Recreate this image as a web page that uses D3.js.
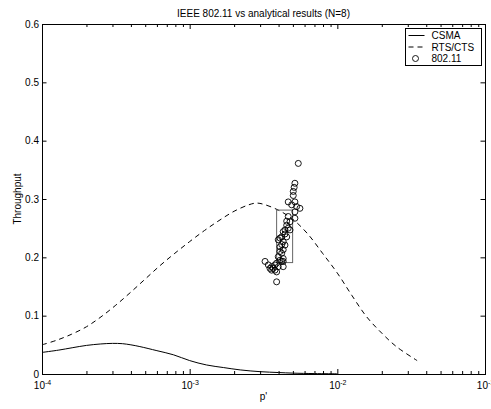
<!DOCTYPE html>
<html>
<head>
<meta charset="utf-8">
<script src="https://cdn.jsdelivr.net/npm/d3@7"></script>
<style>
  body { margin: 0; background: #fff; }
  svg { display: block; }
</style>
</head>
<body>
<div id="chart"></div>
<script>
var width = 491;
var height = 409;
var font = "'Liberation Sans', Arial, Helvetica, sans-serif";

// analytical CSMA curve (p' , throughput)
var csmaP = [1.0e-4, 1.3e-4, 1.6e-4, 2.0e-4, 2.5e-4, 3.0e-4, 3.5e-4, 4.0e-4, 4.6e-4, 6.0e-4,
  7.75e-4, 1.0e-3, 1.3e-3, 1.7e-3, 2.2e-3, 3.0e-3, 4.0e-3, 5.0e-3, 7.0e-3, 1.0e-2];
var csmaS = [0.037, 0.041, 0.045, 0.049, 0.0515, 0.0525, 0.052, 0.050, 0.047, 0.040,
  0.033, 0.023, 0.0155, 0.011, 0.007, 0.004, 0.0025, 0.0015, 0.0007, 0.0003];

// analytical RTS/CTS curve
var rtsP = [1.0e-4, 1.26e-4, 1.58e-4, 2.0e-4, 2.51e-4, 3.16e-4, 3.98e-4, 5.01e-4, 6.31e-4, 7.94e-4,
  1.0e-3, 1.26e-3, 1.58e-3, 2.0e-3, 2.51e-3, 2.82e-3, 3.16e-3, 3.98e-3, 5.01e-3, 6.31e-3, 7.94e-3,
  1.0e-2, 1.26e-2, 1.58e-2, 2.0e-2, 2.51e-2, 3.47e-2];
var rtsS = [0.050, 0.058, 0.068, 0.081, 0.098, 0.118, 0.140, 0.163, 0.186, 0.207,
  0.227, 0.246, 0.263, 0.279, 0.290, 0.293, 0.291, 0.281, 0.265, 0.240, 0.207,
  0.173, 0.134, 0.098, 0.070, 0.047, 0.023];

// 802.11 simulation points
var simP = [5.44e-3, 5.16e-3, 5.10e-3, 5.03e-3, 5.03e-3, 4.65e-3, 5.16e-3, 4.91e-3, 5.30e-3, 5.58e-3,
  5.16e-3, 5.16e-3, 4.78e-3, 4.54e-3, 4.65e-3, 4.42e-3, 4.78e-3, 4.30e-3, 4.20e-3, 4.54e-3,
  4.09e-3, 3.98e-3, 4.30e-3, 4.42e-3, 4.09e-3, 4.30e-3, 4.20e-3, 3.98e-3, 4.30e-3, 4.09e-3,
  4.30e-3, 4.20e-3, 3.88e-3, 3.24e-3, 3.41e-3, 3.78e-3, 3.98e-3, 3.59e-3, 4.30e-3, 3.68e-3,
  3.50e-3, 3.59e-3, 3.78e-3, 3.88e-3, 3.88e-3, 4.42e-3, 4.54e-3, 4.20e-3, 4.65e-3, 4.09e-3];
var simS = [0.361, 0.327, 0.320, 0.313, 0.306, 0.295, 0.295, 0.290, 0.287, 0.284,
  0.278, 0.267, 0.261, 0.255, 0.250, 0.247, 0.247, 0.244, 0.235, 0.235,
  0.233, 0.230, 0.227, 0.221, 0.218, 0.213, 0.207, 0.201, 0.198, 0.195,
  0.193, 0.193, 0.190, 0.193, 0.187, 0.187, 0.184, 0.184, 0.184, 0.181,
  0.181, 0.178, 0.178, 0.175, 0.158, 0.240, 0.262, 0.222, 0.270, 0.210];

// box drawn around the bulk of the simulation points
var boxP = [3.88e-3, 4.98e-3];
var boxS = [0.191, 0.281];

var xMajor = [1e-4, 1e-3, 1e-2, 1e-1];
var xExp = ["-4", "-3", "-2", "-1"];
var yTicks = [0, 0.1, 0.2, 0.3, 0.4, 0.5, 0.6];
var yLabels = ["0", "0.1", "0.2", "0.3", "0.4", "0.5", "0.6"];
var legendNames = ["CSMA", "RTS/CTS", "802.11"];

var x = d3.scaleLog()
  .domain([1e-4, 1e-1])
  .range([42, 485]);

var y = d3.scaleLinear()
  .domain([0, 0.6])
  .range([374, 24]);

// minor ticks 2..9 in every decade
var xMinor = [];
xMajor.slice(0, -1).forEach(function (d) {
  for (var k = 2; k < 10; k++) xMinor.push(k * d);
});

var svg = d3.select("#chart")
  .append("svg")
  .attr("width", width)
  .attr("height", height)
  .attr("font-family", font);

var line = d3.line()
  .x(function (d) { return x(d[0]); })
  .y(function (d) { return y(d[1]); })
  .curve(d3.curveCatmullRom.alpha(0.5));

function tidy(g) {
  g.attr("font-family", font).attr("font-size", 10);
  g.select(".domain").remove();
}

// ticks on all four sides, pointing inwards
svg.append("g")
  .attr("transform", "translate(0," + y(0) + ")")
  .call(d3.axisBottom(x).tickValues(xMajor).tickSizeInner(-5).tickSizeOuter(0).tickPadding(8)
    .tickFormat(function () { return ""; }))
  .call(tidy)
  .selectAll(".tick text")
  .each(function (d, i) {
    var t = d3.select(this);
    t.append("tspan").text("10");
    t.append("tspan").attr("font-size", 7).attr("dy", "-0.55em").text(xExp[i]);
  });

svg.append("g")
  .attr("transform", "translate(0," + y(0) + ")")
  .call(d3.axisBottom(x).tickValues(xMinor).tickSizeInner(-3).tickSizeOuter(0).tickFormat(""))
  .call(tidy);

svg.append("g")
  .attr("transform", "translate(0," + y(0.6) + ")")
  .call(d3.axisTop(x).tickValues(xMajor).tickSizeInner(-5).tickSizeOuter(0).tickFormat(""))
  .call(tidy);

svg.append("g")
  .attr("transform", "translate(0," + y(0.6) + ")")
  .call(d3.axisTop(x).tickValues(xMinor).tickSizeInner(-3).tickSizeOuter(0).tickFormat(""))
  .call(tidy);

svg.append("g")
  .attr("transform", "translate(" + x(1e-4) + ",0)")
  .call(d3.axisLeft(y).tickValues(yTicks).tickSizeInner(-4.5).tickSizeOuter(0).tickPadding(3)
    .tickFormat(function (d, i) { return yLabels[i]; }))
  .call(tidy);

svg.append("g")
  .attr("transform", "translate(" + x(1e-1) + ",0)")
  .call(d3.axisRight(y).tickValues(yTicks).tickSizeInner(-4.5).tickSizeOuter(0).tickFormat(""))
  .call(tidy);

// axes box
svg.append("rect")
  .attr("x", x(1e-4) + 0.5)
  .attr("y", y(0.6) + 0.5)
  .attr("width", x(1e-1) - x(1e-4))
  .attr("height", y(0) - y(0.6))
  .attr("fill", "none")
  .attr("stroke", "#000")
  .attr("stroke-width", 1);

// curves
svg.append("path")
  .datum(d3.zip(csmaP, csmaS))
  .attr("d", line)
  .attr("fill", "none")
  .attr("stroke", "#000")
  .attr("stroke-width", 1);

svg.append("path")
  .datum(d3.zip(rtsP, rtsS))
  .attr("d", line)
  .attr("fill", "none")
  .attr("stroke", "#000")
  .attr("stroke-width", 1)
  .attr("stroke-dasharray", "5,4");

svg.append("rect")
  .attr("x", x(boxP[0]))
  .attr("y", y(boxS[1]))
  .attr("width", x(boxP[1]) - x(boxP[0]))
  .attr("height", y(boxS[0]) - y(boxS[1]))
  .attr("fill", "none")
  .attr("stroke", "#666")
  .attr("stroke-width", 1);

svg.append("g")
  .selectAll("circle")
  .data(d3.zip(simP, simS))
  .enter()
  .append("circle")
  .attr("cx", function (d) { return x(d[0]); })
  .attr("cy", function (d) { return y(d[1]); })
  .attr("r", 3)
  .attr("fill", "none")
  .attr("stroke", "#000")
  .attr("stroke-width", 0.9);

// labels
svg.append("text")
  .attr("x", (x.range()[0] + x.range()[1]) / 2)
  .attr("y", 17)
  .attr("text-anchor", "middle")
  .attr("font-size", 10)
  .text("IEEE 802.11 vs analytical results (N=8)");

svg.append("text")
  .attr("x", (x.range()[0] + x.range()[1]) / 2)
  .attr("y", 400)
  .attr("text-anchor", "middle")
  .attr("font-size", 10)
  .text("p'");

svg.append("text")
  .attr("transform", "translate(21," + (y(0) + y(0.6)) / 2 + ") rotate(-90)")
  .attr("text-anchor", "middle")
  .attr("font-size", 10)
  .text("Throughput");

// legend
var legend = svg.append("g").attr("transform", "translate(405.5,28.5)");

legend.append("rect")
  .attr("width", 76)
  .attr("height", 37)
  .attr("fill", "#fff")
  .attr("stroke", "#000")
  .attr("stroke-width", 1);

var rows = legend.selectAll("g.row")
  .data(legendNames)
  .enter()
  .append("g")
  .attr("class", "row")
  .attr("transform", function (d, i) { return "translate(0," + (7 + i * 11.5) + ")"; });

rows.filter(function (d, i) { return i < 2; })
  .append("line")
  .attr("x1", 3)
  .attr("x2", 19)
  .attr("stroke", "#000")
  .attr("stroke-width", 1)
  .attr("stroke-dasharray", function (d, i) { return i == 1 ? "5,4" : null; });

rows.filter(function (d, i) { return i == 2; })
  .append("circle")
  .attr("cx", 10)
  .attr("r", 3)
  .attr("fill", "none")
  .attr("stroke", "#000")
  .attr("stroke-width", 0.9);

rows.append("text")
  .attr("x", 26)
  .attr("dy", "0.35em")
  .attr("font-size", 10)
  .text(function (d) { return d; });
</script>
</body>
</html>
